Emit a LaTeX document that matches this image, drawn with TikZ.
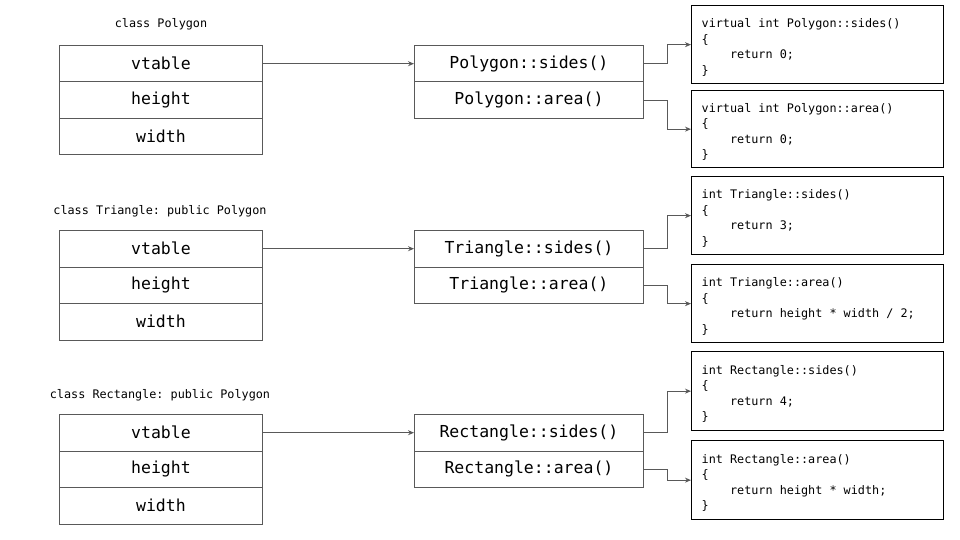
\documentclass[tikz,border=0pt]{standalone}
\usepackage{fontspec}
\setmonofont{DejaVu Sans Mono}
\usetikzlibrary{arrows.meta}
\definecolor{ln}{HTML}{595959}
\newcommand{\ind}{\phantom{xxxx}}
\newcommand{\monospacing}{\spaceskip=\fontcharwd\font`x\relax\xspaceskip=\spaceskip}
\tikzset{
  field/.style={draw=ln, line width=0.9pt, minimum width=203pt, minimum height=36.5pt,
    inner sep=0pt, anchor=north west, font=\ttfamily\fontsize{16.5}{20}\selectfont},
  slot/.style={field, minimum width=229pt},
  code/.style={draw=black, line width=1.3pt, minimum width=252pt, anchor=north west,
    align=left, text width=232pt, inner xsep=10pt, inner ysep=0pt,
    font=\ttfamily\fontsize{11.8}{15.5}\selectfont,
    execute at begin node={\monospacing\rule{0pt}{15pt}}},
  title/.style={inner sep=0pt, font=\ttfamily\fontsize{11.8}{14}\selectfont},
  link/.style={draw=ln, line width=0.9pt, -{Stealth[length=6pt,width=5pt]}},
}
\begin{document}
\begin{tikzpicture}[x=1pt,y=-1pt]
\useasboundingbox (0,0) rectangle (960,540);

% ---------- Polygon ----------
\node[title] (tP) at (161,24) {class Polygon};
\node[field] (vP) at (59,45) {vtable};
\node[field] (hP) at (59,81.5) {height};
\node[field] (wP) at (59,118) {width};
\node[slot] (sP) at (414,45) {Polygon::sides()};
\node[slot] (aP) at (414,81.5) {Polygon::area()};
\node[code, minimum height=78pt] (csP) at (691,5)
  {virtual int Polygon::sides()\\\{\\\ind return 0;\\\}};
\node[code, minimum height=77pt] (caP) at (691,90)
  {virtual int Polygon::area()\\\{\\\ind return 0;\\\}};
\draw[link] (vP.east) -- (sP.west);
\draw[link] (sP.east) -- ++(24,0) |- (csP.west);
\draw[link] (aP.east) -- ++(24,0) |- (caP.west);

% ---------- Triangle ----------
\node[title] (tT) at (160,211) {class Triangle: public Polygon};
\node[field] (vT) at (59,230) {vtable};
\node[field] (hT) at (59,266.5) {height};
\node[field] (wT) at (59,303) {width};
\node[slot] (sT) at (414,230) {Triangle::sides()};
\node[slot] (aT) at (414,266.5) {Triangle::area()};
\node[code, minimum height=78pt] (csT) at (691,176)
  {int Triangle::sides()\\\{\\\ind return 3;\\\}};
\node[code, minimum height=78pt] (caT) at (691,264)
  {int Triangle::area()\\\{\\\ind return height * width / 2;\\\}};
\draw[link] (vT.east) -- (sT.west);
\draw[link] (sT.east) -- ++(24,0) |- (csT.west);
\draw[link] (aT.east) -- ++(24,0) |- (caT.west);

% ---------- Rectangle ----------
\node[title] (tR) at (160,395) {class Rectangle: public Polygon};
\node[field] (vR) at (59,414) {vtable};
\node[field] (hR) at (59,450.5) {height};
\node[field] (wR) at (59,487) {width};
\node[slot] (sR) at (414,414) {Rectangle::sides()};
\node[slot] (aR) at (414,450.5) {Rectangle::area()};
\node[code, minimum height=79pt] (csR) at (691,351)
  {int Rectangle::sides()\\\{\\\ind return 4;\\\}};
\node[code, minimum height=79pt] (caR) at (691,440)
  {int Rectangle::area()\\\{\\\ind return height * width;\\\}};
\draw[link] (vR.east) -- (sR.west);
\draw[link] (sR.east) -- ++(24,0) |- (csR.west);
\draw[link] (aR.east) -- ++(24,0) |- (caR.west);
\end{tikzpicture}
\end{document}
